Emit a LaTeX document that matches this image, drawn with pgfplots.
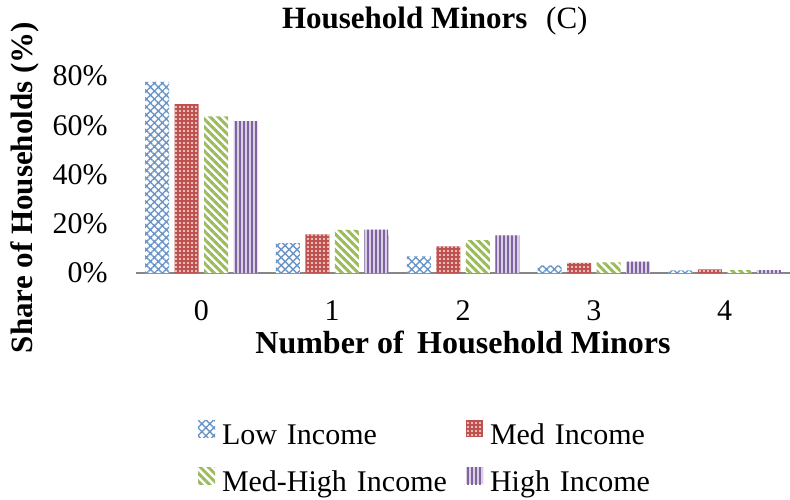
\documentclass[border=0pt]{standalone}
\usepackage{fontspec}
\setmainfont{Liberation Serif}
\usepackage{pgfplots}
\pgfplotsset{compat=1.18}
\usetikzlibrary{patterns.meta}
\definecolor{cLow}{HTML}{4F81BD}
\definecolor{cMed}{HTML}{C0504D}
\definecolor{cMH}{HTML}{9BBB59}
\definecolor{cHigh}{HTML}{8064A2}
\definecolor{cAxis}{HTML}{868686}

\begin{document}
\begin{tikzpicture}
\begin{axis}[
    scale only axis,
    width=327pt, height=98.5pt,
    ybar=2.75pt, bar width=12pt,
    xmin=-0.5, xmax=4.5,
    ymin=0, ymax=80,
    xtick={0,1,2,3,4},
    ytick={0,20,40,60,80},
    yticklabel={\pgfmathprintnumber{\tick}\%},
    /pgf/number format/assume math mode=true,
    major tick length=0pt,
    axis x line*=bottom, axis y line*=left,
    x axis line style={draw=cAxis, line width=1pt, -},
    y axis line style={draw=none},
    tick label style={font=\fontsize{15}{18}\selectfont},
    xticklabel style={anchor=base, yshift=-23.5pt},
    yticklabel style={anchor=east, inner sep=0pt, xshift=-14pt},
    xlabel={Number of\, Household Minors},
    xlabel style={font=\fontsize{16}{19}\selectfont\bfseries, at={(axis description cs:0.5,0)}, anchor=base, yshift=-40pt},
    ylabel={Share of Households (\%)},
    ylabel style={font=\fontsize{15.5}{19}\selectfont\bfseries, at={(axis description cs:-0.1575,0.434)}, anchor=base},
    title={\textbf{Household Minors}\hspace{5.5pt} (C)},
    title style={font=\fontsize{15.5}{19}\selectfont, at={(axis description cs:0.2125,1.2437)}, anchor=base west, yshift=-6pt},
    legend columns=2,
    legend style={draw=none, fill=none, inner sep=0pt, outer sep=0pt,
        at={(axis description cs:0.0948,-0.7107)}, anchor=north west,
        font=\fontsize{15}{18}\selectfont,
        nodes={inner xsep=3.5pt, inner ysep=4.5pt, text height=11pt, text depth=3.5pt, text width=115pt, align=left},
        /tikz/every even column/.append style={column sep=3.5pt}},
    legend cell align=left,
    legend image code/.code={\fill[#1] (0pt,-0.25pt) rectangle (8.5pt,8.25pt);},
]
\addplot[draw=none, fill=white, postaction={pattern={Hatch[angle=45, distance=2.8pt, line width=0.7pt]}, pattern color=cLow!85}]
    coordinates {(0,77.6) (1,12.1) (2,6.8) (3,3.1) (4,1.1)};
\addplot[draw=none, fill=cMed, postaction={pattern={Dots[distance=2pt, radius=0.55pt]}, pattern color=white!85!cMed}]
    coordinates {(0,68.6) (1,15.7) (2,10.8) (3,4.1) (4,1.5)};
\addplot[draw=none, fill=white, postaction={pattern={Lines[angle=-45, distance=2.83pt, line width=1.5pt]}, pattern color=cMH}]
    coordinates {(0,63.6) (1,17.5) (2,13.4) (3,4.3) (4,1.2)};
\addplot[draw=none, fill=cHigh!30, postaction={pattern={Lines[angle=90, distance=2pt, line width=0.75pt]}, pattern color=cHigh}]
    coordinates {(0,61.7) (1,17.6) (2,15.3) (3,4.6) (4,1.2)};
\legend{Low Income, Med Income, Med-High Income, High Income}
\end{axis}
\pgfresetboundingbox
\useasboundingbox (-68pt,-113pt) rectangle (327pt,136.5pt);
\end{tikzpicture}
\end{document}
